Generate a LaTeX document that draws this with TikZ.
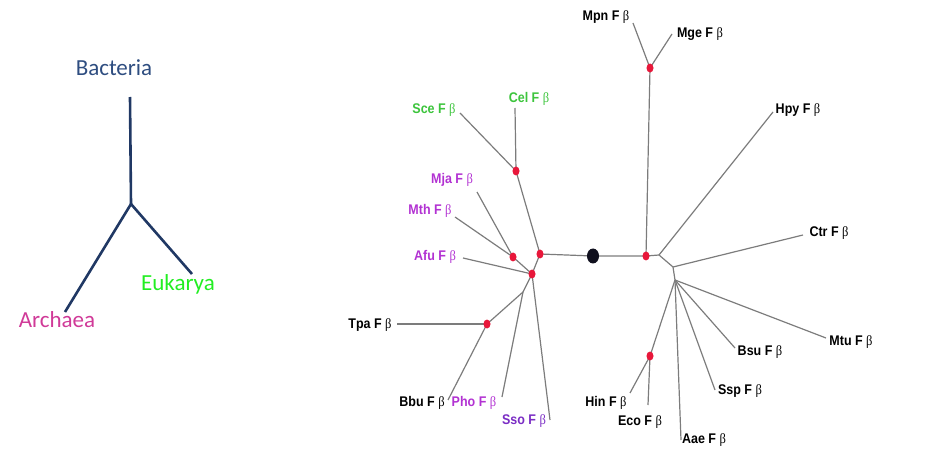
\documentclass[tikz,border=0pt]{standalone}
\usepackage{fontspec}
\usepackage{graphicx}
\setmainfont{Liberation Sans}
\newfontfamily\calib{Carlito}
\newfontfamily\greekf{Liberation Serif}
\usetikzlibrary{shapes.geometric}
\definecolor{navy}{HTML}{203864}
\definecolor{bacblue}{HTML}{2E4D80}
\definecolor{eukgreen}{HTML}{22EE22}
\definecolor{arcpink}{HTML}{D03A98}
\definecolor{lgreen}{HTML}{3CC43C}
\definecolor{lmag}{HTML}{B232D2}
\definecolor{lpurp}{HTML}{7A2CC4}
\definecolor{redn}{HTML}{E8173A}
\definecolor{blkn}{HTML}{10101E}
\definecolor{brgray}{HTML}{7C7C7C}
\newcommand\fbeta{F {\greekf\mdseries β}}
\newcommand\tallb[1]{\scalebox{1}[1.12]{#1}}
\tikzset{
  x=1pt, y=-1pt,
  bigtext/.style={font=\calib\fontsize{23}{26}\selectfont, inner sep=0pt},
  bigline/.style={draw=navy, line width=2.6pt},
  lab/.style={font=\fontsize{12.5}{14}\selectfont\bfseries, inner sep=0pt},
  br/.style={draw=brgray, line width=1.2pt},
  reddot/.style={ellipse, fill=redn, minimum width=7pt, minimum height=9pt, inner sep=0pt},
  blackdot/.style={ellipse, fill=blkn, minimum width=12pt, minimum height=15pt, inner sep=0pt},
}
\begin{document}
\begin{tikzpicture}
\useasboundingbox (0,0) rectangle (948,449);
% ---------- left simple tree ----------
\coordinate (bt) at (130,97);
\coordinate (bj) at (131,204);
\coordinate (ba) at (65,312);
\coordinate (be) at (192,274);
\draw[bigline] (bt) -- (bj);
\draw[bigline] (bj) -- (ba);
\draw[bigline] (bj) -- (be);
\node[bigtext, text=bacblue] (bac) at (114,68) {Bacteria};
\node[bigtext, text=eukgreen] (euk) at (178,284) {Eukarya};
\node[bigtext, text=arcpink] (arc) at (57,320) {Archaea};
% ---------- right tree: internal points ----------
\coordinate (jB1) at (659,255);
\coordinate (jB2) at (673,267);
\coordinate (jB3) at (675,280);
\coordinate (jA1) at (523,292);
\coordinate (pRoot) at (593,256);
\coordinate (pM) at (650,68);
\coordinate (pB) at (646,256);
\coordinate (pS) at (516,171);
\coordinate (pE) at (540,254);
\coordinate (pMM) at (513,257);
\coordinate (pA) at (532,274);
\coordinate (pT) at (487,324);
\coordinate (pH) at (650,356);
% branch ends
\coordinate (eMpn) at (633,23);
\coordinate (eMge) at (672,34);
\coordinate (eHpy) at (773,112);
\coordinate (eCtr) at (803,235);
\coordinate (eMtu) at (826,338);
\coordinate (eBsu) at (735,348);
\coordinate (eSsp) at (715,390);
\coordinate (eAae) at (681,440);
\coordinate (eHin) at (630,393);
\coordinate (eEco) at (648,405);
\coordinate (eSce) at (460,113);
\coordinate (eCel) at (515,108);
\coordinate (eMja) at (477,192);
\coordinate (eMth) at (455,217);
\coordinate (eAfu) at (463,258);
\coordinate (eTpa) at (397,324);
\coordinate (eBbu) at (448,400);
\coordinate (ePho) at (502,397);
\coordinate (eSso) at (550,420);
% branches
\draw[br] (eMpn) -- (pM);
\draw[br] (eMge) -- (pM);
\draw[br] (pM) -- (pB);
\draw[br] (pE) -- (pRoot) -- (pB) -- (jB1);
\draw[br] (jB1) -- (eHpy);
\draw[br] (jB1) -- (jB2) -- (jB3);
\draw[br] (jB2) -- (eCtr);
\draw[br] (jB3) -- (eMtu);
\draw[br] (jB3) -- (eBsu);
\draw[br] (jB3) -- (eSsp);
\draw[br] (jB3) -- (eAae);
\draw[br] (jB3) -- (pH);
\draw[br] (pH) -- (eHin);
\draw[br] (pH) -- (eEco);
\draw[br] (eSce) -- (pS);
\draw[br] (eCel) -- (pS);
\draw[br] (pS) -- (pE);
\draw[br] (pE) -- (pA);
\draw[br] (eMja) -- (pMM);
\draw[br] (eMth) -- (pMM);
\draw[br] (pMM) -- (pA);
\draw[br] (eAfu) -- (pA);
\draw[br] (pA) -- (jA1);
\draw[br] (jA1) -- (pT);
\draw[br] (jA1) -- (ePho);
\draw[br] (pA) -- (eSso);
\draw[br] (eTpa) -- (pT);
\draw[br] (pT) -- (eBbu);
% dots
\node[blackdot] (root) at (pRoot) {};
\foreach \p in {pM,pB,pS,pE,pMM,pA,pT,pH} \node[reddot] (dot\p) at (\p) {};
% labels
\node[lab] (Mpn) at (606,17) {\tallb{Mpn \fbeta}};
\node[lab] (Mge) at (700,34) {\tallb{Mge \fbeta}};
\node[lab] (Hpy) at (798,110) {\tallb{Hpy \fbeta}};
\node[lab] (Ctr) at (829,233) {\tallb{Ctr \fbeta}};
\node[lab] (Mtu) at (851,342) {\tallb{Mtu \fbeta}};
\node[lab] (Bsu) at (760,352) {\tallb{Bsu \fbeta}};
\node[lab] (Ssp) at (740,391) {\tallb{Ssp \fbeta}};
\node[lab] (Aae) at (704,440) {\tallb{Aae \fbeta}};
\node[lab] (Hin) at (606,403) {\tallb{Hin \fbeta}};
\node[lab] (Eco) at (640,422) {\tallb{Eco \fbeta}};
\node[lab, text=lgreen] (Sce) at (434,110) {\tallb{Sce \fbeta}};
\node[lab, text=lgreen] (Cel) at (529,99) {\tallb{Cel \fbeta}};
\node[lab, text=lmag] (Mja) at (452,180) {\tallb{Mja \fbeta}};
\node[lab, text=lmag] (Mth) at (430,211) {\tallb{Mth \fbeta}};
\node[lab, text=lmag] (Afu) at (435,257) {\tallb{Afu \fbeta}};
\node[lab] (Tpa) at (370,325) {\tallb{Tpa \fbeta}};
\node[lab] (Bbu) at (422,403) {\tallb{Bbu \fbeta}};
\node[lab, text=lmag] (Pho) at (474,403) {\tallb{Pho \fbeta}};
\node[lab, text=lpurp] (Sso) at (524,421) {\tallb{Sso \fbeta}};
\end{tikzpicture}
\end{document}
